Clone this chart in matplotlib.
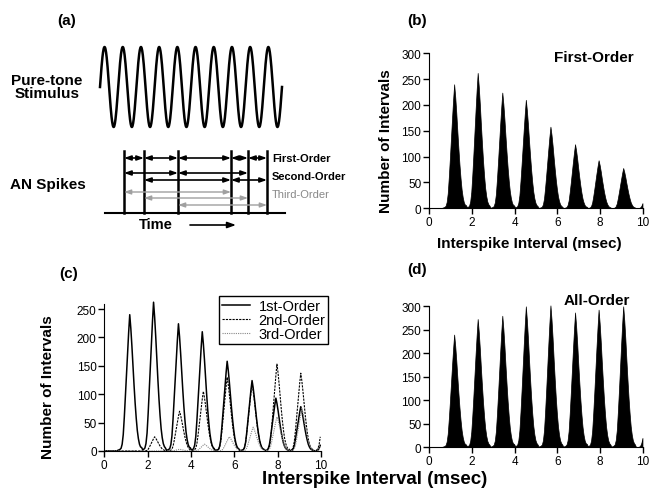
import numpy as np
import matplotlib
matplotlib.use("Agg")
import matplotlib.pyplot as plt

plt.rcParams['font.family'] = ['Liberation Sans', 'DejaVu Sans']

# histogram bins (msec)
bin_width = 0.05
n_bins = 200
# relative shape of one interval peak, one value per bin from -0.55 to +0.55 msec
peak_shape = [0.005, 0.008, 0.012, 0.02, 0.05, 0.12, 0.25, 0.40, 0.56, 0.72, 0.87,
              1.0,
              0.90, 0.77, 0.62, 0.48, 0.35, 0.24, 0.15, 0.09, 0.05, 0.03, 0.02]

first_centers = [1.15, 2.25, 3.4, 4.5, 5.65, 6.8, 7.9, 9.05, 10.2]
first_heights = [240, 262, 224, 210, 158, 124, 93, 78, 40]
second_centers = [2.3, 3.45, 4.55, 5.65, 6.8, 7.95, 9.05, 10.2]
second_heights = [25, 70, 105, 130, 118, 153, 137, 100]
third_centers = [3.45, 4.6, 5.75, 6.85, 7.95, 9.1, 10.2]
third_heights = [3, 12, 25, 42, 60, 75, 40]
all_centers = [1.15, 2.25, 3.4, 4.5, 5.65, 6.8, 7.9, 9.05, 10.2]
all_heights = [240, 273, 280, 300, 302, 287, 293, 300, 80]

# schematic in panel (a), figure pixel units
stim_cycles = 10
spike_x = [124, 144, 178, 231, 248, 267]
interval_rows = [  # (y, colour, line width, spike index pairs)
    (159, 'black', 1.2, [(0, 1), (1, 2), (2, 3), (3, 4), (4, 5)]),
    (174, 'black', 1.2, [(0, 2), (2, 4)]),
    (181, 'black', 1.2, [(1, 3), (3, 5)]),
    (193, '#a0a0a0', 1.0, [(0, 3)]),
    (199, '#a0a0a0', 1.0, [(1, 4)]),
    (206, '#a0a0a0', 1.0, [(2, 5)]),
]


def histogram(centers, heights):
    counts = np.zeros(n_bins)
    half = len(peak_shape) // 2
    for c, h in zip(centers, heights):
        mid = int(round(c / bin_width))
        for j, s in enumerate(peak_shape):
            k = mid - half + j
            if 0 <= k < n_bins:
                counts[k] += h * s
    return counts


def style(ax, ymax, ytop, yticks):
    ax.set_xlim(0, 10)
    ax.set_ylim(0, ymax)
    ax.spines[['top', 'right']].set_visible(False)
    ax.spines['left'].set_bounds(0, ytop)
    ax.set_xticks(range(0, 11, 2))
    ax.set_yticks(yticks)
    ax.tick_params(direction='out', length=4, width=1, pad=1.5, labelsize=8.5)
    ax.set_facecolor('none')


W, H = 650, 489
fig = plt.figure(figsize=(6.5, 4.89), dpi=100)

# overlay in pixel coordinates for panel (a) and the free text
ax_a = fig.add_axes([0, 0, 1, 1])
ax_a.set_xlim(0, W)
ax_a.set_ylim(H, 0)
ax_a.axis('off')

t = np.linspace(0, stim_cycles, 600)
ax_a.plot(100 + t * 18.2, 88 - 40 * np.sin(2 * np.pi * t), color='black', lw=1.8)

ax_a.plot([105, 285], [214, 214], color='black', lw=1.5)
for x in spike_x:
    ax_a.plot([x, x], [152, 214], color='black', lw=1.8)
for y, c, lw, pairs in interval_rows:
    for i, j in pairs:
        ax_a.annotate('', xy=(spike_x[j], y), xytext=(spike_x[i], y),
                      arrowprops=dict(arrowstyle='<|-|>,head_length=0.4,head_width=0.14',
                                      color=c, lw=lw, shrinkA=0, shrinkB=0))
ax_a.text(272, 159, 'First-Order', fontsize=8, fontweight='bold', va='center')
ax_a.text(272, 176.5, 'Second-Order', fontsize=8, fontweight='bold', va='center')
ax_a.text(272, 194.5, 'Third-Order', fontsize=8, color='#888888', va='center')
ax_a.text(47, 87.5, 'Pure-tone\nStimulus', fontsize=11, fontweight='bold',
          ha='center', va='center', linespacing=0.95)
ax_a.text(48, 185, 'AN Spikes', fontsize=11, fontweight='bold', ha='center', va='center')
ax_a.text(156, 225, 'Time', fontsize=10.5, fontweight='bold', ha='center', va='center')
ax_a.annotate('', xy=(236, 226), xytext=(190, 226),
              arrowprops=dict(arrowstyle='-|>,head_length=0.5,head_width=0.18',
                              color='black', lw=1.2, shrinkA=0, shrinkB=0))

for label, x, y in [('(a)', 67, 21), ('(b)', 417, 21), ('(c)', 69, 274), ('(d)', 417, 270)]:
    ax_a.text(x, y, label, fontsize=11, fontweight='bold', ha='center', va='center')

mids = (np.arange(n_bins) + 0.5) * bin_width

# (b) first-order histogram
ax_b = fig.add_axes([429 / W, 1 - 209.3 / H, 214 / W, 157.6 / H])
ax_b.fill_between(mids, histogram(first_centers, first_heights), color='black', lw=0.5)
style(ax_b, 305, 300, range(0, 301, 50))
ax_a.text(594, 58, 'First-Order', fontsize=11, fontweight='bold', ha='center', va='center')
ax_a.text(386, 141, 'Number of Intervals', fontsize=11, fontweight='bold',
          rotation=90, ha='center', va='center')
ax_a.text(529, 244, 'Interspike Interval (msec)', fontsize=11, fontweight='bold',
          ha='center', va='center')

# (c) first/second/third order
ax_c = fig.add_axes([104.3 / W, 1 - 452 / H, 216.5 / W, 150.5 / H])
ax_c.plot(mids, histogram(first_centers, first_heights), color='black', lw=1.1,
          label='1st-Order')
ax_c.plot(mids, histogram(second_centers, second_heights), color='black', lw=0.8,
          ls=(0, (2, 1)), label='2nd-Order')
ax_c.plot(mids, histogram(third_centers, third_heights), color='#888888', lw=0.8,
          ls=(0, (1, 1)), label='3rd-Order')
style(ax_c, 265, 258, range(0, 251, 50))
leg = ax_c.legend(loc='upper left', bbox_to_anchor=(219 / W, 1 - 297 / H),
                  bbox_transform=fig.transFigure, borderaxespad=0, fontsize=10.5,
                  fancybox=False, framealpha=1, edgecolor='black', labelspacing=0,
                  borderpad=0.2, handlelength=1.9, handletextpad=0.6)
leg.get_frame().set_linewidth(1.0)
ax_a.text(48, 387.5, 'Number of Intervals', fontsize=11, fontweight='bold',
          rotation=90, ha='center', va='center')
ax_a.text(375, 480, 'Interspike Interval (msec)', fontsize=13.5, fontweight='bold',
          ha='center', va='center')

# (d) all-order histogram
ax_d = fig.add_axes([429 / W, 1 - 448.3 / H, 214 / W, 143.3 / H])
ax_d.fill_between(mids, histogram(all_centers, all_heights), color='black', lw=0.5)
style(ax_d, 305, 300, range(0, 301, 50))
ax_a.text(597, 301, 'All-Order', fontsize=11, fontweight='bold', ha='center', va='center')

fig.savefig('out.png', dpi=100)
